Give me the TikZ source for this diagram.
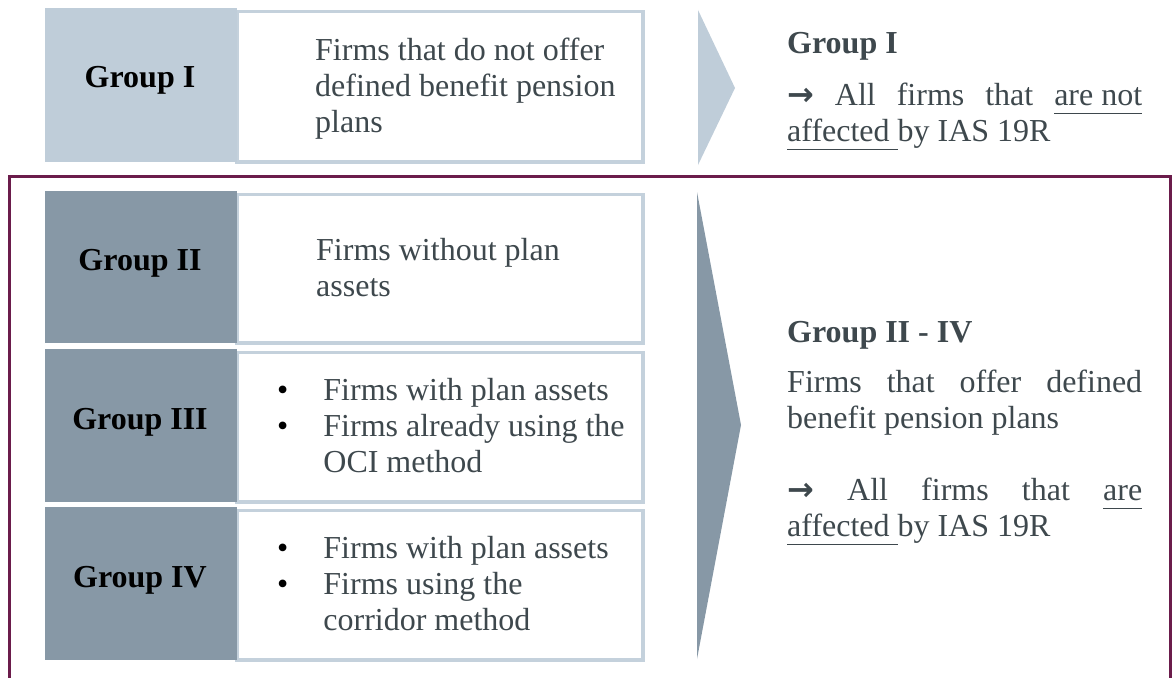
\documentclass[tikz,border=0pt]{standalone}
\usepackage{fontspec}
\setmainfont{Liberation Serif}
\newfontfamily\arrowfont{DejaVu Sans}
\usepackage{tikz}
\definecolor{slate100}{HTML}{C4D1DC}
\definecolor{slate200}{HTML}{BFCDD9}
\definecolor{slate400}{HTML}{8798A6}
\definecolor{ink}{HTML}{3E484D}
\definecolor{wine}{HTML}{6B1C4B}
\tolerance=9999
\hbadness=10000
\newcommand{\ulword}[1]{\underline{#1\vphantom{y}}}
\newcommand{\bigtext}{\fontsize{32}{36}\selectfont}
\newcommand{\blackdot}{\textcolor{black}{\textbullet}}
\newcommand{\rarrow}{{\arrowfont\bfseries →}}
\tikzstyle{groupcell}=[rectangle, anchor=north west, inner sep=0pt, minimum width=191.75pt]
\tikzstyle{desccell}=[rectangle, anchor=north west, draw=slate100, line width=3.5pt, fill=white, inner sep=0pt, minimum width=406pt]
\tikzstyle{grouptext}=[anchor=base, inner sep=0pt, font=\bigtext\bfseries, text=black]
\tikzstyle{desctext}=[anchor=base west, inner sep=0pt, align=left, text=ink]
\tikzstyle{listtext}=[anchor=base west, inner sep=0pt, text=ink]
\tikzstyle{sidehead}=[anchor=base west, inner sep=0pt, font=\bigtext\bfseries, text=ink]
\tikzstyle{sidetext}=[anchor=base west, inner sep=0pt, text width=355pt, align=justify, text=ink]

\begin{document}
\begin{tikzpicture}[x=1pt, y=-1pt, font=\bigtext]
					\useasboundingbox (0,0) rectangle (1174,677);
					\clip (0,0) rectangle (1174,677);
					% frame round groups II to IV
					\draw[wine, line width=3pt] (9.5,176.5) rectangle (1170.5,700);
					% description cells
					\node[desccell, minimum height=150.5pt] (d1) at (235,9.75) {};
					\node[desccell, minimum height=148.5pt] (d2) at (235,192.75) {};
					\node[desccell, minimum height=149.5pt] (d3) at (235,350.75) {};
					\node[desccell, minimum height=149.5pt] (d4) at (235,508.75) {};
					% group cells
					\node[groupcell, fill=slate200, minimum height=154pt] (g1) at (45,8) {};
					\node[groupcell, fill=slate400, minimum height=152pt] (g2) at (45,191) {};
					\node[groupcell, fill=slate400, minimum height=153pt] (g3) at (45,349) {};
					\node[groupcell, fill=slate400, minimum height=153pt] (g4) at (45,507) {};
					\node[grouptext] (l1) at (140,87) {Group I};
					\node[grouptext] (l2) at (140,270) {Group II};
					\node[grouptext] (l3) at (140,429) {Group III};
					\node[grouptext] (l4) at (140,587) {Group IV};
					% last line sits on the given point
					\node[desctext] (t1) at (315,132) {Firms that do not offer\\defined benefit pension\\plans};
					\node[desctext] (t2) at (316,296) {Firms without plan\\assets};
					\node[listtext] (t3) at (277,400) {\begin{tabular}[t]{@{}l@{\hspace{35pt}}l@{}}
						\blackdot & Firms with plan assets\\
						\blackdot & Firms already using the\\
						& OCI method
					\end{tabular}};
					\node[listtext] (t4) at (277,558) {\begin{tabular}[t]{@{}l@{\hspace{35pt}}l@{}}
						\blackdot & Firms with plan assets\\
						\blackdot & Firms using the\\
						& corridor method
					\end{tabular}};
					% arrows
					\fill[slate200] (698,10) -- (735,88) -- (698,165) -- cycle;
					\fill[slate400] (697,192) -- (741,425) -- (697,659) -- cycle;
					% right side
					\node[sidehead] (h1) at (787,54) {Group I};
					\node[sidetext] (s1) at (787,105) {\rarrow{} All firms that \ulword{are not}\linebreak \ulword{affected\ }by IAS 19R};
					\node[sidehead] (h2) at (787,342) {Group II - IV};
					\node[sidetext] (s2) at (787,392) {Firms that offer defined\linebreak benefit pension plans\par\vspace{36pt}\rarrow{} All firms that \ulword{are}\linebreak \ulword{affected\ }by IAS 19R};
				\end{tikzpicture}
\end{document}
